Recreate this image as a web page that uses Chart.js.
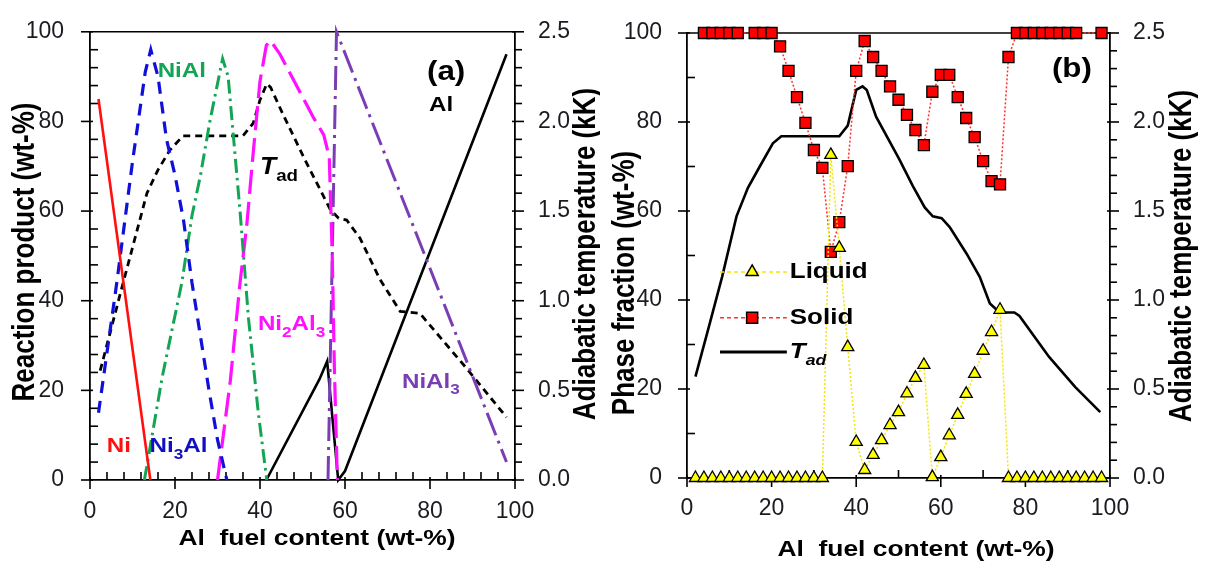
<!DOCTYPE html>
<html>
<head>
<meta charset="utf-8">
<script src="https://cdn.jsdelivr.net/npm/chart.js@4.4.0/dist/chart.umd.min.js"></script>
<style>
  html, body { margin: 0; padding: 0; background: #fff; }
  #wrap { position: relative; width: 1205px; height: 563px; overflow: hidden; }
  canvas { position: absolute; top: 0; }
  #chartA { left: 0; }
  #chartB { left: 600px; }
</style>
</head>
<body>
<div id="wrap">
  <canvas id="chartA" width="600" height="563"></canvas>
  <canvas id="chartB" width="605" height="563"></canvas>
</div>
<script>
// ---------------------------------------------------------------------------
// Panel (a): reaction products vs Al fuel content (wt-%)
// ---------------------------------------------------------------------------
const niX = [2, 14.2]
const niY = [85, 0]

const ni3alX = [2, 6.3, 10, 13, 14.3, 16, 18, 20, 22, 24, 26, 28, 30, 32.2]
const ni3alY = [15, 44, 71, 91, 96, 90, 76, 68, 58, 44, 32, 20, 9, 0]

const nialX = [12.8, 17, 21.6, 24, 26, 28.2, 31.2, 32.5, 35.3, 37.3, 39.6, 41.6]
const nialY = [0, 23, 44, 59, 68, 80, 94, 90, 60, 36, 15, 0]

const ni2al3X = [30, 33, 35.3, 36.9, 38.4, 40, 41.5, 42.5, 44.7, 52.5, 55, 56.3, 57, 57.5, 58.2]
const ni2al3Y = [0, 22, 44, 57, 73, 89, 97, 98, 95, 81, 77, 72, 50, 25, 0]

const nial3X = [56, 58, 98]
const nial3Y = [0, 100, 4]

const alX = [41.5, 54, 55.8, 58.4, 60, 98]
const alY = [0, 22.5, 26.5, 0, 2, 95]

// adiabatic temperature, kK (right axis)
const tadAX = [2.4, 7.8, 13.4, 16, 18.8, 21.9, 36, 38.4, 40, 41.6, 42.5, 45.4, 50.5, 56.5, 58.5, 60.4, 63.5, 68.2, 73, 77.6, 88.7, 98]
const tadAY = [0.61, 1.10, 1.60, 1.73, 1.84, 1.92, 1.92, 1.99, 2.12, 2.21, 2.19, 2.04, 1.79, 1.51, 1.46, 1.45, 1.35, 1.12, 0.94, 0.93, 0.62, 0.35]

// ---------------------------------------------------------------------------
// Panel (b): phase fractions
// ---------------------------------------------------------------------------
const liquidX = [2, 4, 6, 8, 10, 12, 14, 16, 18, 20, 22, 24, 26, 28, 30, 32,
  34, 36, 38, 40, 42, 44, 46, 48, 50, 52, 54, 56, 58, 60, 62, 64, 66, 68, 70, 72, 74,
  76, 78, 80, 82, 84, 86, 88, 90, 92, 94, 96, 98]
const liquidY = [0, 0, 0, 0, 0, 0, 0, 0, 0, 0, 0, 0, 0, 0, 0, 0,
  72.6, 51.7, 29.4, 8.1, 1.8, 5.2, 8.5, 11.9, 14.8, 19, 22.5, 25.4, 0.2, 4.7, 9.6, 14.2, 18.9, 23.4, 28.6, 32.8, 37.8,
  0, 0, 0, 0, 0, 0, 0, 0, 0, 0, 0, 0]

const solidX = [4, 6, 8, 10, 12, 16, 18, 20,
  22, 24, 26, 28, 30, 32, 34, 36, 38, 40, 42, 44, 46, 48, 50, 52, 54, 56, 58, 60, 62, 64, 66, 68, 70, 72, 74, 76,
  78, 80, 82, 84, 86, 88, 90, 92, 98]
const solidY = [100, 100, 100, 100, 100, 100, 100, 100,
  97, 91.5, 85.6, 79.8, 73.7, 69.7, 50.8, 57.5, 70.1, 91.5, 98.2, 94.6, 91.5, 88, 85, 81.6, 78.2, 74.8, 86.8, 90.6, 90.6, 85.6, 80.9, 76.6, 71.2, 66.7, 66, 94.6,
  100, 100, 100, 100, 100, 100, 100, 100, 100]

const tadBX = [2, 5.4, 8.3, 11.7, 14.4, 17.2, 20.3, 22.3, 36, 38, 40, 41.5, 42.5, 44.7, 50.2, 53.4, 56.2, 58.1, 60.2, 62.1, 66.1, 69.2, 71.6, 73.9, 77.4, 78.6, 85.6, 91.8, 97.7]
const tadBY = [0.57, 0.87, 1.13, 1.47, 1.63, 1.75, 1.88, 1.92, 1.92, 1.98, 2.18, 2.20, 2.18, 2.03, 1.79, 1.64, 1.52, 1.47, 1.46, 1.41, 1.26, 1.13, 0.98, 0.93, 0.93, 0.91, 0.68, 0.51, 0.37]

// axis ticks
const xTicks = [0, 20, 40, 60, 80, 100]
const yTicks = [0, 20, 40, 60, 80, 100]
const tTicks = [0, 0.5, 1.0, 1.5, 2.0, 2.5]

const FONT = "'Liberation Sans', Arial, sans-serif"
const TICK_FONT = { family: FONT, size: 23 }
const TICK_COLOR = '#1b1b22'

const pts = (xs, ys) => xs.map((x, i) => ({ x: x, y: ys[i] }))

// draws text made of parts, ["Ni", "3"(sub), "Al"], with an optional stretch
function richText(ctx, parts, x, y, o) {
  ctx.save()
  ctx.translate(x, y)
  if (o.rotate) {
    ctx.rotate(o.rotate)
    ctx.scale(1, o.stretch || 1)
  } else {
    ctx.scale(o.stretch || 1, 1)
  }
  ctx.fillStyle = o.color || '#000'
  ctx.textBaseline = 'middle'
  const main = `${o.italic ? 'italic ' : ''}bold ${o.size}px ${FONT}`
  const subSize = Math.round(o.size * 0.7)
  let w = 0
  parts.forEach(([t, sub, ital]) => {
    ctx.font = sub ? `${ital ? 'italic ' : ''}bold ${subSize}px ${FONT}` : main
    w += ctx.measureText(t).width
  })
  let cx = o.align === 'center' ? -w / 2 : 0
  parts.forEach(([t, sub, ital]) => {
    ctx.font = sub ? `${ital ? 'italic ' : ''}bold ${subSize}px ${FONT}` : main
    ctx.fillText(t, cx, sub ? o.size * 0.38 : 0)
    cx += ctx.measureText(t).width
  })
  ctx.restore()
}

// top frame line plus major / minor tick marks drawn from the chart scales
const axisDecor = {
  id: 'axisDecor',
  beforeDatasetsDraw(chart, args, opts) {
    const { ctx, chartArea: a } = chart
    ctx.save()
    ctx.strokeStyle = '#000'
    ctx.lineWidth = 1.6
    ctx.beginPath()
    ctx.moveTo(a.left, a.top)
    ctx.lineTo(a.right, a.top)
    ctx.stroke()
    for (const id of ['x', 'y', 'y1']) {
      const s = chart.scales[id]
      const o = opts[id]
      const n = Math.round((s.max - s.min) / o.minor)
      for (let i = 0; i <= n; i++) {
        const v = s.min + i * o.minor
        const isMajor = Math.abs(v / o.major - Math.round(v / o.major)) < 1e-6
        const [inL, outL] = isMajor ? [3, 9] : (id === 'y1' ? [0, 7] : [8, 0])
        const p = s.getPixelForValue(v)
        ctx.beginPath()
        if (id === 'x') {
          ctx.moveTo(p, a.bottom - inL); ctx.lineTo(p, a.bottom + outL)
        } else if (id === 'y') {
          ctx.moveTo(a.left - outL, p); ctx.lineTo(a.left + inL, p)
        } else {
          ctx.moveTo(a.right - inL, p); ctx.lineTo(a.right + outL, p)
        }
        ctx.stroke()
      }
    }
    ctx.restore()
  }
}

// free text: axis titles and in-plot labels (positions given in data units)
const annotations = {
  id: 'annotations',
  afterDraw(chart, args, opts) {
    const { ctx } = chart
    const sx = chart.scales.x
    const sy = chart.scales.y
    for (const t of opts.titles) {
      richText(ctx, t.parts, t.px, t.py, t)
    }
    for (const l of opts.labels) {
      richText(ctx, l.parts, sx.getPixelForValue(l.x), sy.getPixelForValue(l.y), l)
    }
    for (const g of opts.legend || []) {
      const y = sy.getPixelForValue(g.y)
      const x0 = sx.getPixelForValue(g.x0)
      const x1 = sx.getPixelForValue(g.x1)
      const xm = sx.getPixelForValue(g.xm)
      ctx.save()
      ctx.strokeStyle = g.line
      ctx.lineWidth = g.width
      ctx.setLineDash(g.dash || [])
      ctx.beginPath(); ctx.moveTo(x0, y); ctx.lineTo(x1, y); ctx.stroke()
      ctx.setLineDash([])
      if (g.marker) {
        ctx.fillStyle = g.fill
        ctx.strokeStyle = '#000'
        ctx.lineWidth = 1.5
        ctx.beginPath()
        if (g.marker === 'rect') {
          const h = g.r * Math.SQRT1_2
          ctx.rect(xm - h, y - h, 2 * h, 2 * h)
        } else {
          ctx.moveTo(xm, y - g.r)
          ctx.lineTo(xm + g.r * 0.866, y + g.r / 2)
          ctx.lineTo(xm - g.r * 0.866, y + g.r / 2)
          ctx.closePath()
        }
        ctx.fill(); ctx.stroke()
      }
      ctx.restore()
      richText(ctx, g.parts, sx.getPixelForValue(g.tx), y, { size: 22, stretch: 1.18, italic: g.italic })
    }
  }
}

// pads: label gaps past Chart.js' own 8px tick length (grid itself is hidden)
function scalesFor(yWidth, y1Width, xHeight, pads) {
  const base = {
    grid: { display: false },
    border: { display: true, color: '#000', width: 1.8 },
    ticks: { font: TICK_FONT, color: TICK_COLOR, autoSkip: false, maxRotation: 0 }
  }
  return {
    x: {
      ...base, type: 'linear', min: 0, max: 100,
      ticks: { ...base.ticks, stepSize: 20, padding: pads[0] },
      afterBuildTicks: (s) => { s.ticks = xTicks.map((v) => ({ value: v })) },
      afterFit: (s) => { s.height = xHeight }
    },
    y: {
      ...base, min: 0, max: 100,
      ticks: { ...base.ticks, stepSize: 20, padding: pads[1] },
      afterBuildTicks: (s) => { s.ticks = yTicks.map((v) => ({ value: v })) },
      afterFit: (s) => { s.width = yWidth }
    },
    y1: {
      ...base, position: 'right', min: 0, max: 2.5,
      ticks: { ...base.ticks, stepSize: 0.5, padding: pads[2], callback: (v) => Number(v).toFixed(1) },
      afterBuildTicks: (s) => { s.ticks = tTicks.map((v) => ({ value: v })) },
      afterFit: (s) => { s.width = y1Width }
    }
  }
}

const lineSet = (label, xs, ys, color, dash, width, axis) => ({
  label: label,
  data: pts(xs, ys),
  borderColor: color,
  borderWidth: width,
  borderDash: dash,
  pointRadius: 0,
  tension: 0,
  fill: false,
  clip: false,
  yAxisID: axis || 'y'
})

// ---------------------------------------------------------------- panel (a)
new Chart(document.getElementById('chartA'), {
  type: 'line',
  data: {
    datasets: [
      lineSet('Ni', niX, niY, '#ff1010', [], 2.6),
      lineSet('Ni3Al', ni3alX, ni3alY, '#1010d8', [12, 8], 3.2),
      lineSet('NiAl', nialX, nialY, '#13a555', [14, 5, 2.5, 5], 3),
      lineSet('Ni2Al3', ni2al3X, ni2al3Y, '#ff10ff', [24, 8], 3.2),
      lineSet('NiAl3', nial3X, nial3Y, '#7a3eb4', [24, 6, 3, 6], 3),
      lineSet('Al', alX, alY, '#000', [], 2.6),
      lineSet('Tad', tadAX, tadAY, '#000', [7, 5], 2.8, 'y1')
    ]
  },
  options: {
    responsive: false,
    animation: false,
    events: [],
    layout: { padding: { top: 27 } },
    scales: scalesFor(90, 85, 83, [10, 18, 15]),
    plugins: {
      legend: { display: false },
      tooltip: { enabled: false },
      axisDecor: { x: { major: 20, minor: 4 }, y: { major: 20, minor: 4 }, y1: { major: 0.5, minor: 0.1 } },
      annotations: {
        titles: [
          { parts: [['Reaction product (wt-%)']], px: 26, py: 252, size: 26, stretch: 1.18, rotate: -Math.PI / 2, align: 'center' },
          { parts: [['Adiabatic temperature (kK)']], px: 587, py: 254, size: 26, stretch: 1.18, rotate: -Math.PI / 2, align: 'center' },
          { parts: [['Al  fuel content (wt-%)']], px: 317, py: 539, size: 22, stretch: 1.2, align: 'center' }
        ],
        labels: [
          { parts: [['NiAl']], x: 21.6, y: 91.2, size: 21, stretch: 1.15, color: '#13a555', align: 'center' },
          { parts: [['(a)']], x: 83.8, y: 91, size: 28, stretch: 1.12, color: '#000', align: 'center' },
          { parts: [['Al']], x: 82.6, y: 83.7, size: 21, stretch: 1.15, color: '#000', align: 'center' },
          { parts: [['T'], ['ad', true]], x: 40, y: 69.8, size: 24, stretch: 1.1, italic: true, color: '#000' },
          { parts: [['Ni'], ['2', true], ['Al'], ['3', true]], x: 39.5, y: 34.7, size: 21, stretch: 1.15, color: '#ff10ff' },
          { parts: [['NiAl'], ['3', true]], x: 73.4, y: 21.8, size: 21, stretch: 1.15, color: '#7a3eb4' },
          { parts: [['Ni']], x: 6.8, y: 7.5, size: 21, stretch: 1.15, color: '#ff1010', align: 'center' },
          { parts: [['Ni'], ['3', true], ['Al']], x: 14, y: 7.5, size: 21, stretch: 1.15, color: '#1010c0' }
        ]
      }
    }
  },
  plugins: [axisDecor, annotations]
})

// ---------------------------------------------------------------- panel (b)
new Chart(document.getElementById('chartB'), {
  type: 'line',
  data: {
    datasets: [
      {
        label: 'Liquid', data: pts(liquidX, liquidY), order: 0, clip: false,
        borderColor: '#f5e600', borderWidth: 1.5, borderDash: [2, 2], tension: 0,
        pointStyle: 'triangle', pointRadius: 7, pointBackgroundColor: '#ffff00',
        pointBorderColor: '#000', pointBorderWidth: 1.3
      },
      {
        label: 'Solid', data: pts(solidX, solidY), order: 1, clip: false,
        borderColor: '#ff3030', borderWidth: 1.5, borderDash: [2, 2], tension: 0,
        pointStyle: 'rect', pointRadius: 7.8, pointBackgroundColor: '#ff0000',
        pointBorderColor: '#000', pointBorderWidth: 1.3
      },
      { ...lineSet('Tad', tadBX, tadBY, '#000', [], 2.6, 'y1'), order: 2 }
    ]
  },
  options: {
    responsive: false,
    animation: false,
    events: [],
    layout: { padding: { top: 33 } },
    scales: scalesFor(87, 95, 85, [9, 17, 15]),
    plugins: {
      legend: { display: false },
      tooltip: { enabled: false },
      axisDecor: { x: { major: 20, minor: 10 }, y: { major: 20, minor: 10 }, y1: { major: 0.5, minor: 0.1 } },
      annotations: {
        titles: [
          { parts: [['Phase fraction (wt-%)']], px: 26, py: 283, size: 26, stretch: 1.18, rotate: -Math.PI / 2, align: 'center' },
          { parts: [['Adiabatic temperature (kK)']], px: 583, py: 256, size: 26, stretch: 1.18, rotate: -Math.PI / 2, align: 'center' },
          { parts: [['Al  fuel content (wt-%)']], px: 316, py: 550, size: 22, stretch: 1.2, align: 'center' }
        ],
        labels: [
          { parts: [['(b)']], x: 91, y: 91.9, size: 28, stretch: 1.12, color: '#000', align: 'center' }
        ],
        legend: [
          { parts: [['Liquid']], y: 46.3, x0: 7.8, x1: 23.6, xm: 15.4, tx: 24.3, line: '#f5e600', width: 1.5, dash: [4, 3], marker: 'triangle', fill: '#ffff00', r: 7 },
          { parts: [['Solid']], y: 36, x0: 7.8, x1: 23.6, xm: 15.4, tx: 24.3, line: '#ff3030', width: 1.5, dash: [4, 3], marker: 'rect', fill: '#ff0000', r: 7.8 },
          { parts: [['T'], ['ad', true, true]], italic: true, y: 28.3, x0: 7.8, x1: 23.6, xm: 15.4, tx: 24.3, line: '#000', width: 3 }
        ]
      }
    }
  },
  plugins: [axisDecor, annotations]
})
</script>
</body>
</html>
